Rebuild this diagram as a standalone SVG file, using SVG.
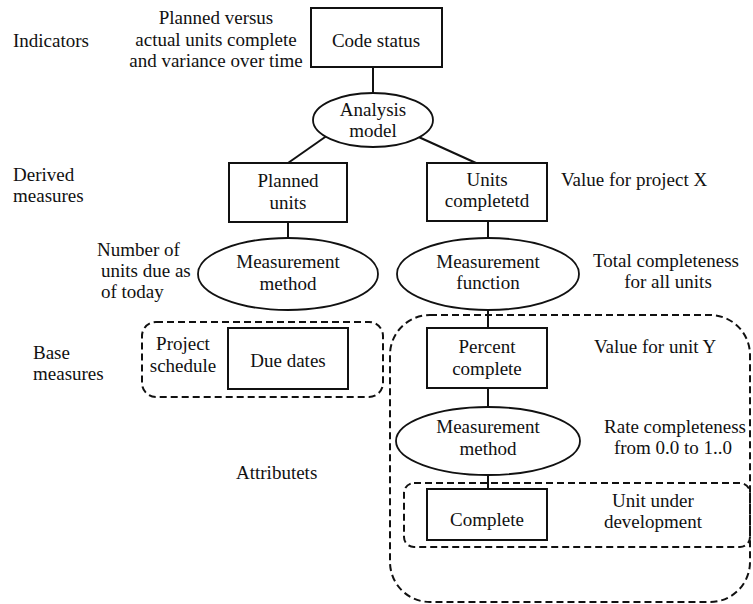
<svg xmlns="http://www.w3.org/2000/svg" width="753" height="604" viewBox="0 0 753 604">
<style>
text{font-family:"Liberation Serif","Times New Roman",serif;font-size:19px;fill:#111}
.c{text-anchor:middle}
.box{fill:#fff;stroke:#111;stroke-width:2}
.ell{fill:#fff;stroke:#111;stroke-width:1.8}
.dash{fill:none;stroke:#111;stroke-width:2;stroke-dasharray:7,4}
.ln{stroke:#111;stroke-width:2;fill:none}
</style>
<rect width="753" height="604" fill="#fff"/>
<g id="groups">
<rect id="base-group" class="dash" x="142" y="322" width="241" height="75" rx="14"/>
<rect id="unit-group" class="dash" x="390" y="315" width="360" height="287" rx="40"/>
<rect id="attr-group" class="dash" x="404" y="483" width="346" height="64" rx="10"/>
</g>
<g id="connectors">
<line class="ln" x1="373" y1="67" x2="373" y2="93"/>
<line class="ln" x1="328" y1="135" x2="288" y2="163"/>
<line class="ln" x1="412" y1="134" x2="476" y2="163"/>
<line class="ln" x1="288" y1="222" x2="288" y2="238"/>
<line class="ln" x1="488" y1="221" x2="488" y2="238"/>
<line class="ln" x1="488" y1="310" x2="488" y2="328"/>
<line class="ln" x1="488" y1="388" x2="488" y2="407"/>
<line class="ln" x1="488" y1="475" x2="488" y2="489"/>
</g>
<g id="labels">
<text x="13" y="47">Indicators</text>
<text class="c" x="216" y="24">Planned versus</text>
<text class="c" x="216" y="46">actual units complete</text>
<text class="c" x="216" y="67">and variance over time</text>
<text x="13" y="181">Derived</text>
<text x="13" y="202">measures</text>
<text x="561" y="186">Value for project X</text>
<text x="97" y="256">Number of</text>
<text x="101" y="277">units due as</text>
<text x="101" y="298">of today</text>
<text class="c" x="666" y="267">Total completeness</text>
<text class="c" x="668" y="288">for all units</text>
<text x="33" y="359">Base</text>
<text x="33" y="380">measures</text>
<text class="c" x="183" y="350">Project</text>
<text class="c" x="183" y="372">schedule</text>
<text x="594" y="353">Value for unit Y</text>
<text class="c" x="675" y="433">Rate completeness</text>
<text class="c" x="673" y="454">from 0.0 to 1..0</text>
<text x="236" y="479">Attributets</text>
<text class="c" x="653" y="507">Unit under</text>
<text class="c" x="653" y="528">development</text>
</g>
<g id="code-status"><rect class="box" x="311" y="8" width="131" height="59"/><text class="c" x="376" y="47">Code status</text></g>
<g id="analysis-model"><ellipse class="ell" cx="373" cy="120" rx="60" ry="27"/><text class="c" x="373" y="116">Analysis</text><text class="c" x="373" y="137">model</text></g>
<g id="planned-units"><rect class="box" x="229" y="163" width="118" height="59"/><text class="c" x="288" y="187">Planned</text><text class="c" x="288" y="209">units</text></g>
<g id="units-completed"><rect class="box" x="427" y="163" width="120" height="58"/><text class="c" x="487" y="186">Units</text><text class="c" x="487" y="207">completetd</text></g>
<g id="measurement-method-1"><ellipse class="ell" cx="288" cy="274" rx="90" ry="36"/><text class="c" x="288" y="268">Measurement</text><text class="c" x="288" y="290">method</text></g>
<g id="measurement-function"><ellipse class="ell" cx="488" cy="274" rx="91" ry="36"/><text class="c" x="488" y="268">Measurement</text><text class="c" x="488" y="289">function</text></g>
<g id="due-dates"><rect class="box" x="228" y="328" width="120" height="61"/><text class="c" x="288" y="367">Due dates</text></g>
<g id="percent-complete"><rect class="box" x="427" y="328" width="120" height="60"/><text class="c" x="487" y="353">Percent</text><text class="c" x="487" y="375">complete</text></g>
<g id="measurement-method-2"><ellipse class="ell" cx="488" cy="441" rx="92" ry="34"/><text class="c" x="488" y="433">Measurement</text><text class="c" x="488" y="455">method</text></g>
<g id="complete"><rect class="box" x="427" y="489" width="120" height="51"/><text class="c" x="487" y="526">Complete</text></g>
</svg>
